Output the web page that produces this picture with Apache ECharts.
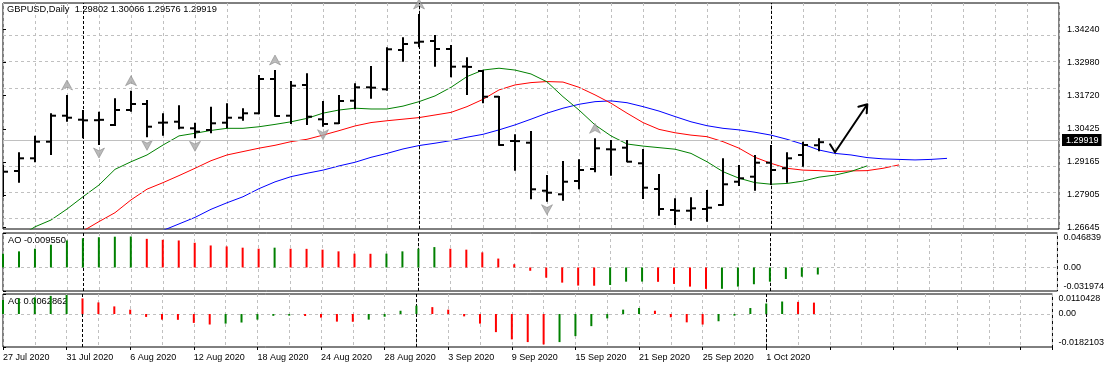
<!DOCTYPE html>
<html><head><meta charset="utf-8">
<script src="https://cdn.jsdelivr.net/npm/echarts@6/dist/echarts.min.js"></script>
<style>html,body{margin:0;padding:0;background:#fff}#c{width:1107px;height:368px}</style>
</head><body><div id="c"></div>
<script>
const symbolName = 'GBPUSD,Daily';
const dates = ['27 Jul 2020','28 Jul 2020','29 Jul 2020','30 Jul 2020','31 Jul 2020','3 Aug 2020','4 Aug 2020','5 Aug 2020','6 Aug 2020','7 Aug 2020',
 '10 Aug 2020','11 Aug 2020','12 Aug 2020','13 Aug 2020','14 Aug 2020','17 Aug 2020','18 Aug 2020','19 Aug 2020','20 Aug 2020','21 Aug 2020',
 '24 Aug 2020','25 Aug 2020','26 Aug 2020','27 Aug 2020','28 Aug 2020','31 Aug 2020','1 Sep 2020','2 Sep 2020','3 Sep 2020','4 Sep 2020',
 '7 Sep 2020','8 Sep 2020','9 Sep 2020','10 Sep 2020','11 Sep 2020','14 Sep 2020','15 Sep 2020','16 Sep 2020','17 Sep 2020','18 Sep 2020',
 '21 Sep 2020','22 Sep 2020','23 Sep 2020','24 Sep 2020','25 Sep 2020','28 Sep 2020','29 Sep 2020','30 Sep 2020','1 Oct 2020','2 Oct 2020',
 '5 Oct 2020','6 Oct 2020'];
const openP = [1.28089,1.28816,1.29302,1.29938,1.30933,1.30780,1.30760,1.30577,1.31151,1.31381,
 1.30665,1.30703,1.30451,1.30386,1.30665,1.30856,1.31025,1.32338,1.30933,1.32108,
 1.30795,1.30642,1.31507,1.32020,1.31944,1.33448,1.33727,1.33793,1.33486,1.32815,
 1.32644,1.31660,1.29965,1.29899,1.28062,1.27924,1.28433,1.28893,1.29647,1.29708,
 1.29111,1.28127,1.27323,1.27296,1.27362,1.27515,1.28406,1.28598,1.29134,1.28920,
 1.29429,1.29802];
const highP = [1.29046,1.29532,1.30167,1.31025,1.31725,1.31151,1.31086,1.31599,1.31890,1.31534,
 1.31025,1.31331,1.30665,1.31278,1.31408,1.31216,1.32491,1.32682,1.32261,1.32556,
 1.31496,1.31725,1.32173,1.32836,1.33551,1.33934,1.34826,1.34022,1.33639,1.33169,
 1.32682,1.31687,1.30221,1.30347,1.28663,1.29199,1.29264,1.30068,1.30003,1.30003,
 1.29658,1.28701,1.27771,1.27809,1.28089,1.29302,1.29046,1.29429,1.29811,1.29532,
 1.29938,1.30066];
const lowP = [1.27821,1.28368,1.29149,1.29429,1.30703,1.30068,1.29811,1.30539,1.31086,1.30106,
 1.30167,1.30412,1.30068,1.30259,1.30451,1.30742,1.30987,1.30895,1.30615,1.30577,
 1.30512,1.30615,1.31178,1.31584,1.31890,1.33000,1.33551,1.32809,1.32403,1.31725,
 1.31408,1.29785,1.28828,1.27733,1.27641,1.27679,1.28116,1.28766,1.28636,1.29149,
 1.27744,1.27105,1.26749,1.26914,1.26875,1.27488,1.28242,1.28062,1.28280,1.28368,
 1.28981,1.29576];
const closeP = [1.28789,1.29302,1.29938,1.30933,1.30856,1.30755,1.30775,1.31151,1.31381,1.30512,
 1.30670,1.30474,1.30321,1.30642,1.30856,1.31025,1.32338,1.30922,1.32081,1.30895,
 1.30615,1.31496,1.32020,1.32005,1.33475,1.33678,1.33766,1.33486,1.32809,1.32800,
 1.31660,1.29811,1.29960,1.28116,1.27985,1.28406,1.28854,1.29685,1.29640,1.29172,
 1.28177,1.27362,1.27296,1.27388,1.27411,1.28307,1.28537,1.29134,1.28854,1.29302,
 1.29811,1.29919];

// Alligator lines, first index of each
const lipsFrom = 1;
const lips = [1.2629,1.2668,1.2694,1.2736,1.2783,1.2828,1.2888,1.2917,1.2943,1.2981,
 1.3016,1.3026,1.3037,1.3045,1.3045,1.3051,1.3060,1.3070,1.3083,1.3103,
 1.3115,1.3122,1.3119,1.3119,1.3130,1.3147,1.3169,1.3202,1.3243,1.3268,
 1.3275,1.3268,1.3253,1.3223,1.3166,1.3115,1.3058,1.3016,1.2985,1.2977,
 1.2971,1.2965,1.2949,1.2917,1.2879,1.2854,1.2837,1.2831,1.2834,1.2843,
 1.2858,1.2866,1.2880,1.2901];
const teethFrom = 5;
const teeth = [1.2652,1.2688,1.2722,1.2771,1.2812,1.2837,1.2864,1.2892,1.2921,1.2943,
 1.2956,1.2969,1.2980,1.2994,1.3003,1.3019,1.3036,1.3054,1.3067,1.3074,
 1.3080,1.3086,1.3096,1.3106,1.3128,1.3156,1.3192,1.3211,1.3220,1.3224,
 1.3222,1.3202,1.3173,1.3141,1.3103,1.3067,1.3041,1.3028,1.3019,1.3013,
 1.2994,1.2969,1.2934,1.2911,1.2892,1.2885,1.2883,1.2879,1.2882,1.2883,
 1.2892,1.2905];
const jawFrom = 10;
const jaw = [1.2654,1.2679,1.2704,1.2735,1.2760,1.2783,1.2814,1.2840,1.2860,1.2873,
 1.2885,1.2901,1.2915,1.2934,1.2949,1.2966,1.2979,1.2988,1.2998,1.3011,
 1.3022,1.3039,1.3058,1.3080,1.3103,1.3122,1.3137,1.3147,1.3150,1.3143,
 1.3128,1.3111,1.3090,1.3070,1.3055,1.3045,1.3039,1.3030,1.3019,1.3003,
 1.2984,1.2962,1.2949,1.2943,1.2933,1.2928,1.2926,1.2924,1.2926,1.2930];

const ao = [0.0188,0.0219,0.0255,0.0309,0.0367,0.0397,0.0411,0.0418,0.0421,0.0389,
 0.0376,0.0367,0.0336,0.0299,0.0286,0.0269,0.0255,0.0269,0.0255,0.0253,
 0.0242,0.0219,0.0188,0.0186,0.0188,0.0219,0.0255,0.0277,0.0255,0.0242,
 0.0205,0.0121,0.0044,-0.0045,-0.0139,-0.0206,-0.0246,-0.0248,-0.0238,-0.0193,
 -0.0192,-0.0195,-0.0224,-0.0260,-0.0291,-0.0290,-0.0260,-0.0228,-0.0193,-0.0157,
 -0.0126,-0.009550];
const ac = [0.0078,0.0085,0.0092,0.0100,0.0105,0.0086,0.0064,0.0042,0.0024,-0.0016,
 -0.0031,-0.0032,-0.0049,-0.0058,-0.0053,-0.0047,-0.0031,-0.0010,-0.0009,-0.0011,
 -0.0020,-0.0042,-0.0043,-0.0031,-0.0015,0.0018,0.0046,0.0038,0.0024,-0.0013,
 -0.0053,-0.0100,-0.0140,-0.0155,-0.0168,-0.0155,-0.0122,-0.0067,-0.0024,0.0024,
 0.0033,0.0018,-0.0018,-0.0046,-0.0058,-0.0040,-0.0009,0.0033,0.0058,0.0069,
 0.0067,0.0062862];

const priceTicks = [1.26645,1.27905,1.29165,1.30425,1.31720,1.32980,1.34240];
const priceMin = 1.26596, priceMax = 1.35247;
const aoTicks = [-0.031974, 0, 0.046839];
const aoTickText = ['-0.031974','0.00','0.046839'];
const acTicks = [-0.0182103, 0, 0.0110428];
const acTickText = ['-0.0182103','0.00','0.0110428'];
const fractalUp = [4, 8, 17, 26, 37];
const fractalDown = [6, 9, 12, 20, 34];
const separators = [5, 26, 48];
const xMax = 66;
const arrowX = [51.69, 52.0, 54.02, 53.46, 54.02, 53.98];
const arrowY = [1.29838, 1.29532, 1.31369, 1.31278, 1.31369, 1.31025];

const FONT = '"Liberation Sans", Arial, sans-serif';
const FS = 9;
const GRID_C = '#c0c0c0';
const GREEN = '#008000', RED = '#ff0000';

const chart = echarts.init(document.getElementById('c'), null, {renderer: 'canvas'});
const last = closeP.length - 1;
const titleText = symbolName + '  ' + [openP[last], highP[last], lowP[last], closeP[last]].map(v => v.toFixed(5)).join(' ');

function seq(arr, from) { return arr.map((v, i) => [from + i, v]); }
const ohlc = openP.map((o, i) => [i, o, highP[i], lowP[i], closeP[i]]);

function xAx(gi, extra) {
  return Object.assign({
    type: 'value', gridIndex: gi, min: 0, max: xMax, interval: 2,
    axisLine: {show: false}, axisTick: {show: false}, axisLabel: {show: false},
    splitLine: {show: true, lineStyle: {color: GRID_C, type: [3, 3], width: 1}}
  }, extra || {});
}
const labelStyle = {fontSize: FS, fontFamily: FONT, color: '#000'};
const titleStyle = {fontSize: 9.3, fontFamily: FONT, color: '#000', fontWeight: 'normal'};
function sepLines() {
  return separators.map(s => ({xAxis: s, lineStyle: {color: '#000', type: [3, 2], width: 1}}));
}
function histColor(arr) {
  return p => (p.dataIndex === 0 || arr[p.dataIndex] >= arr[p.dataIndex - 1]) ? GREEN : RED;
}

const option = {
  animation: false,
  backgroundColor: '#fff',
  textStyle: {fontFamily: FONT},
  title: [
    {text: titleText, left: 7, top: 5, padding: 0, z: 0, textStyle: titleStyle},
    {text: 'AO ' + ao[last].toFixed(6), left: 8, top: 236, padding: 0, z: 0, textStyle: titleStyle},
    {text: 'AC ' + ac[last].toFixed(7), left: 8, top: 297, padding: 0, z: 0, textStyle: titleStyle}
  ],
  grid: [
    {left: 3, width: 1056, top: 3, height: 226, show: true, borderColor: '#000', borderWidth: 1, backgroundColor: 'transparent'},
    {left: 3, width: 1056, top: 233, height: 58, show: true, borderColor: '#000', borderWidth: 1, backgroundColor: 'transparent'},
    {left: 3, width: 1056, top: 294, height: 53, show: true, borderColor: '#000', borderWidth: 1, backgroundColor: 'transparent'}
  ],
  xAxis: [
    xAx(0), xAx(1), xAx(2),
    {type: 'value', gridIndex: 2, min: 0, max: xMax, interval: 4, position: 'bottom',
     axisLine: {show: false}, splitLine: {show: false},
     axisTick: {show: true, length: 3, lineStyle: {color: '#000'}},
     axisLabel: Object.assign({show: true, margin: 6, align: 'left', formatter: v => dates[v] || ''}, labelStyle)}
  ],
  yAxis: [
    {type: 'value', gridIndex: 0, position: 'right', min: priceMin, max: priceMax, scale: true,
     axisLine: {show: false}, splitLine: {show: false},
     axisTick: {show: true, length: 3, customValues: priceTicks, lineStyle: {color: '#000'}},
     axisLabel: Object.assign({margin: 8, customValues: priceTicks, formatter: v => v.toFixed(5)}, labelStyle)},
    {type: 'value', gridIndex: 1, position: 'right', min: aoTicks[0], max: aoTicks[2],
     axisLine: {show: false}, splitLine: {show: false},
     axisTick: {show: true, length: 3, customValues: aoTicks, lineStyle: {color: '#000'}},
     axisLabel: Object.assign({margin: 6, customValues: aoTicks, verticalAlignMinLabel: 'bottom', verticalAlignMaxLabel: 'top',
       formatter: v => aoTickText[aoTicks.indexOf(aoTicks.reduce((a, b) => Math.abs(b - v) < Math.abs(a - v) ? b : a))]}, labelStyle)},
    {type: 'value', gridIndex: 2, position: 'right', min: acTicks[0], max: acTicks[2],
     axisLine: {show: false}, splitLine: {show: false},
     axisTick: {show: true, length: 3, customValues: acTicks, lineStyle: {color: '#000'}},
     axisLabel: Object.assign({margin: 6, customValues: acTicks, verticalAlignMinLabel: 'bottom', verticalAlignMaxLabel: 'top',
       formatter: v => acTickText[acTicks.indexOf(acTicks.reduce((a, b) => Math.abs(b - v) < Math.abs(a - v) ? b : a))]}, labelStyle)}
  ],
  series: [
    // main pane: grid lines, price line, separators
    {type: 'line', xAxisIndex: 0, yAxisIndex: 0, data: [], z: 1, clip: false, silent: true,
     markLine: {silent: true, symbol: 'none', animation: false,
       data: priceTicks.map(v => ({yAxis: v, lineStyle: {color: GRID_C, type: [3, 3], width: 1}, label: {show: false}}))
         .concat(sepLines().map(o => Object.assign(o, {label: {show: false}})))
         .concat([{yAxis: closeP[last], lineStyle: {color: '#c0c0c0', type: 'solid', width: 1},
           label: {show: true, position: 'end', distance: 3, formatter: closeP[last].toFixed(5),
             backgroundColor: '#000', color: '#fff', padding: [2, 3, 1, 4], fontSize: FS, fontFamily: FONT}}])
     }},
    {type: 'line', name: 'jaw', xAxisIndex: 0, yAxisIndex: 0, data: seq(jaw, jawFrom), symbol: 'none', z: 3,
     lineStyle: {color: '#0000ff', width: 1}},
    {type: 'line', name: 'teeth', xAxisIndex: 0, yAxisIndex: 0, data: seq(teeth, teethFrom), symbol: 'none', z: 3,
     lineStyle: {color: '#ff0000', width: 1}},
    {type: 'line', name: 'lips', xAxisIndex: 0, yAxisIndex: 0, data: seq(lips, lipsFrom), symbol: 'none', z: 3,
     lineStyle: {color: '#008000', width: 1}},
    {type: 'custom', name: 'bars', xAxisIndex: 0, yAxisIndex: 0, data: ohlc, z: 5, clip: true,
     renderItem: function (params, api) {
       const i = api.value(0);
       const pH = api.coord([i, api.value(2)]);
       const pL = api.coord([i, api.value(3)]);
       const yO = api.coord([i, api.value(1)])[1];
       const yC = api.coord([i, api.value(4)])[1];
       const x = pH[0];
       const st = {stroke: '#000', lineWidth: 2};
       return {type: 'group', children: [
         {type: 'line', shape: {x1: x, y1: pH[1], x2: x, y2: pL[1]}, style: st},
         {type: 'line', shape: {x1: x - 5, y1: yO, x2: x, y2: yO}, style: st},
         {type: 'line', shape: {x1: x, y1: yC, x2: x + 5, y2: yC}, style: st}
       ]};
     }},
    {type: 'scatter', name: 'fractalUp', xAxisIndex: 0, yAxisIndex: 0, z: 4,
     data: fractalUp.map(i => [i, highP[i]]),
     symbol: 'path://M5,0 L10,9 L5,6.5 L0,9 Z', symbolSize: [11, 10], symbolOffset: [0, -10],
     itemStyle: {color: '#a8a8a8', borderColor: '#7a7a7a', borderWidth: 0.6}},
    {type: 'scatter', name: 'fractalDown', xAxisIndex: 0, yAxisIndex: 0, z: 4,
     data: fractalDown.map(i => [i, lowP[i]]),
     symbol: 'path://M0,0 L5,2.5 L10,0 L5,9 Z', symbolSize: [11, 10], symbolOffset: [0, 8],
     itemStyle: {color: '#a8a8a8', borderColor: '#7a7a7a', borderWidth: 0.6}},
    {type: 'line', name: 'arrow', xAxisIndex: 0, yAxisIndex: 0, z: 6, clip: false,
     data: arrowX.map((x, i) => [x, arrowY[i]]), symbol: 'none',
     lineStyle: {color: '#000', width: 2, cap: 'round', join: 'round'}},
    // AO pane
    {type: 'line', xAxisIndex: 1, yAxisIndex: 1, data: [], z: 1, silent: true, clip: false,
     markLine: {silent: true, symbol: 'none', label: {show: false},
       data: [{yAxis: 0, lineStyle: {color: GRID_C, type: [3, 3], width: 1}}].concat(sepLines())}},
    {type: 'bar', name: 'AO', xAxisIndex: 1, yAxisIndex: 1, data: ao.map((v, i) => [i, v]), barWidth: 2, z: 5,
     itemStyle: {color: histColor(ao)}},
    // AC pane
    {type: 'line', xAxisIndex: 2, yAxisIndex: 2, data: [], z: 1, silent: true, clip: false,
     markLine: {silent: true, symbol: 'none', label: {show: false},
       data: [{yAxis: 0, lineStyle: {color: GRID_C, type: [3, 3], width: 1}}].concat(sepLines())}},
    {type: 'bar', name: 'AC', xAxisIndex: 2, yAxisIndex: 2, data: ac.map((v, i) => [i, v]), barWidth: 2, z: 5,
     itemStyle: {color: histColor(ac)}}
  ]
};
chart.setOption(option);
</script></body></html>
